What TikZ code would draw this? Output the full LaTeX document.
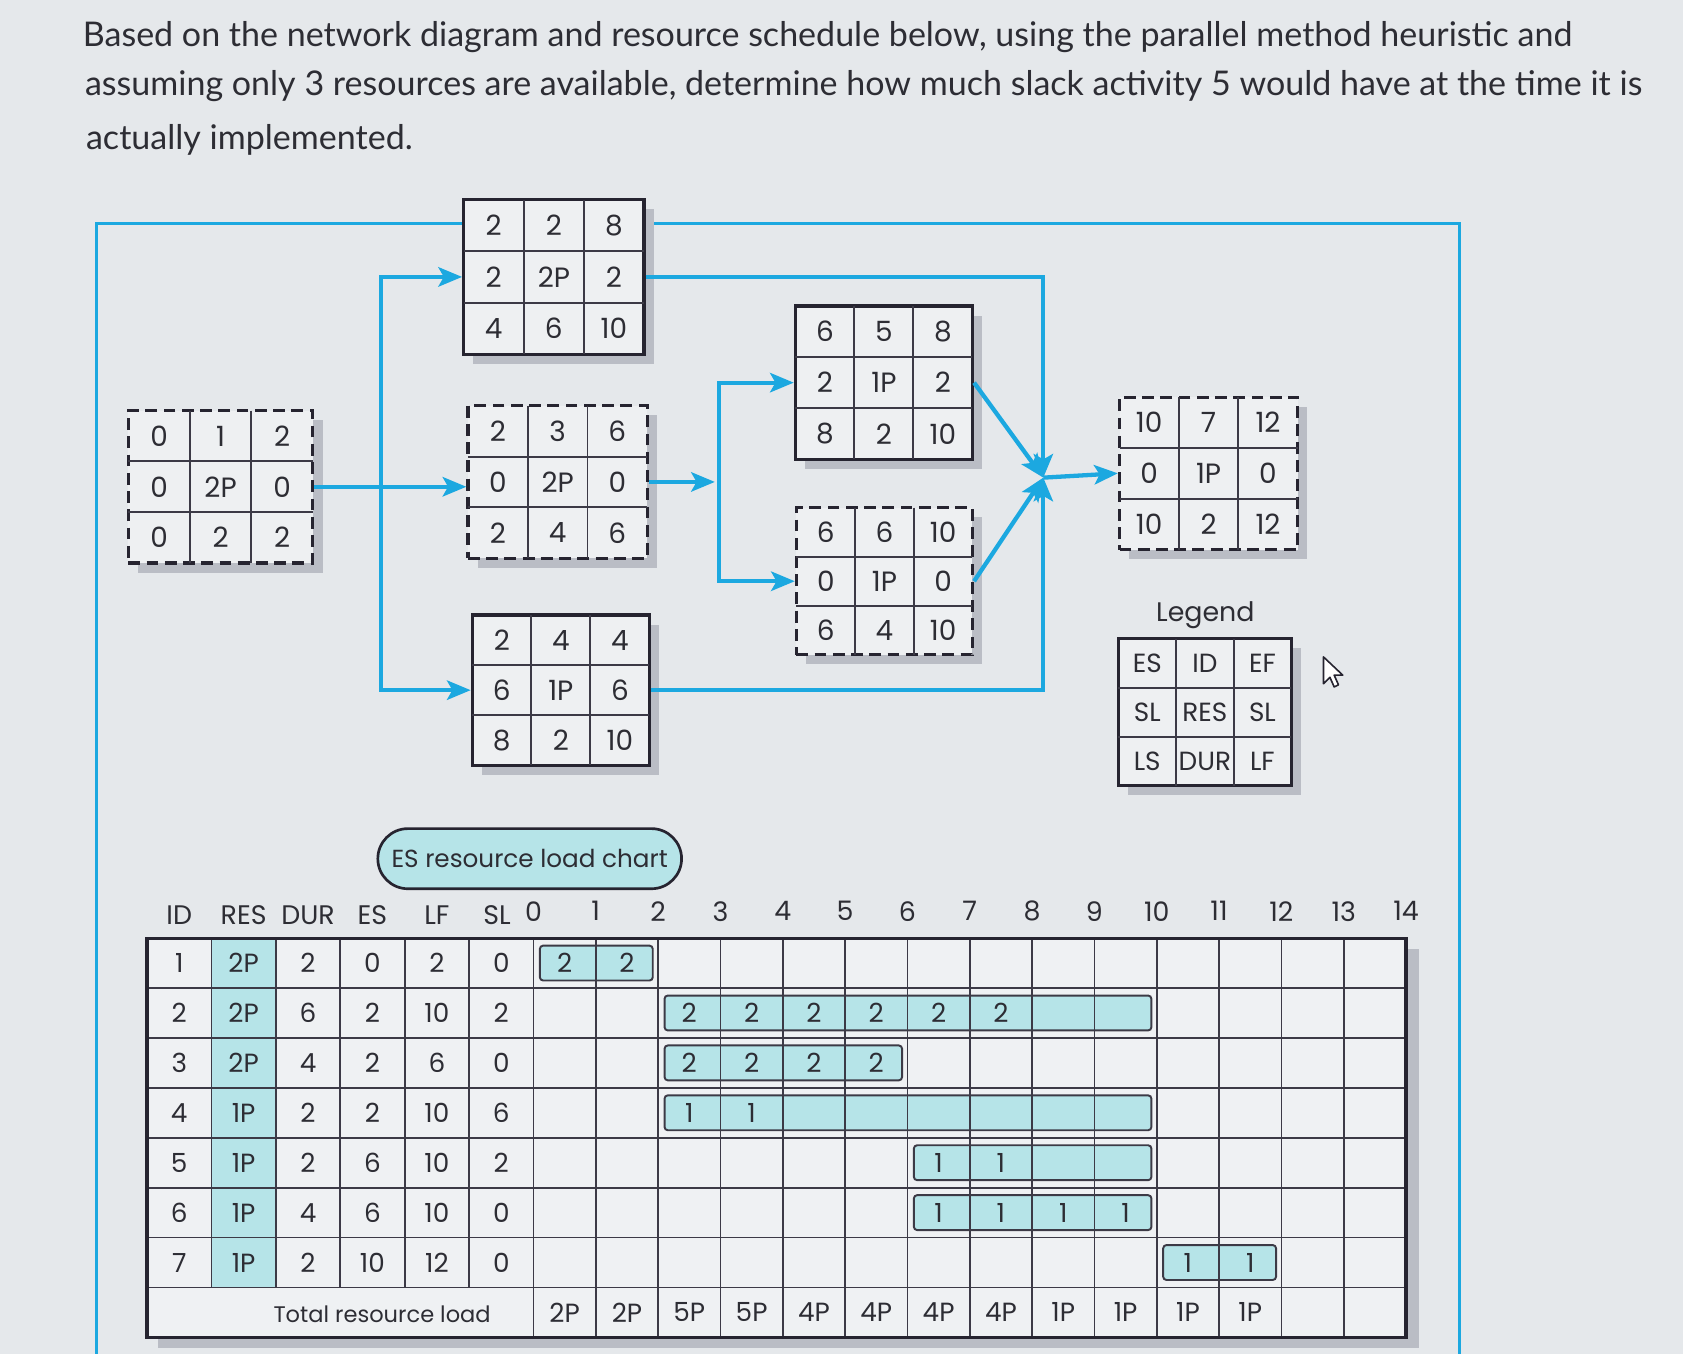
\documentclass[tikz,border=0pt]{standalone}
\usepackage{fontspec}
\setmainfont{Lato}
\newfontfamily\dfont{Poppins}
\usetikzlibrary{arrows.meta,calc}
\definecolor{bgc}{RGB}{229,232,235}
\definecolor{boxc}{RGB}{238,240,242}
\definecolor{shadc}{RGB}{186,189,197}
\definecolor{linec}{RGB}{38,36,48}
\definecolor{gridc}{RGB}{60,58,70}
\definecolor{bluec}{RGB}{28,168,224}
\definecolor{cyanc}{RGB}{182,228,232}
\definecolor{txtc}{RGB}{45,45,52}
\newcommand\myfs[1]{\fontsize{#1}{#1}\selectfont}
\tikzset{
  qtext/.style={font=\myfs{31.7}, text=txtc, inner sep=0pt},
  conn/.style={draw=bluec, line width=4pt, -{Stealth[length=22pt,width=18pt,inset=5pt]}},
  frameline/.style={draw=bluec, line width=3pt},
  solidbox/.style={draw=linec, line width=3pt, fill=boxc, inner sep=0pt},
  dashbox/.style={draw=linec, line width=3pt, fill=boxc, inner sep=0pt, dash pattern=on 11pt off 6pt},
  innerl/.style={draw=gridc, line width=1.8pt},
  cell/.style={font=\dfont\myfs{26}, text=txtc, inner sep=0pt},
  hdr/.style={font=\dfont\myfs{25}, text=txtc, inner sep=0pt},
  tc/.style={font=\dfont\myfs{24.5}, text=txtc, inner sep=0pt},
  gridl/.style={draw=gridc, line width=1.6pt},
  bar/.style={draw=gridc, line width=1.8pt, fill=cyanc, rounded corners=3pt},
  pill/.style={draw=linec, line width=2.5pt, fill=cyanc, rounded corners=28pt, minimum width=283pt, minimum height=56pt, font=\dfont\myfs{23}, text=txtc},
}
\newcommand\abox[7]{%
  \fill[shadc] ({#2-#5/2+9},{#3-#6/2+9}) rectangle ({#2+#5/2+9},{#3+#6/2+9});
  \node[#4, minimum width=#5, minimum height=#6] (#1) at (#2,#3) {};
  \draw[innerl] ({#2-#5/6},{#3-#6/2}) -- ({#2-#5/6},{#3+#6/2});
  \draw[innerl] ({#2+#5/6},{#3-#6/2}) -- ({#2+#5/6},{#3+#6/2});
  \draw[innerl] ({#2-#5/2},{#3-#6/6}) -- ({#2+#5/2},{#3-#6/6});
  \draw[innerl] ({#2-#5/2},{#3+#6/6}) -- ({#2+#5/2},{#3+#6/6});
  \foreach \t [count=\i from 0] in {#7} {
    \pgfmathtruncatemacro\cc{mod(\i,3)}
    \pgfmathtruncatemacro\rr{int(\i/3)}
    \node[cell] (#1-\i) at ({#2+(\cc-1)*#5/3},{#3+(\rr-1)*#6/3}) {\t};
  }
}
\begin{document}
\begin{tikzpicture}[x=1pt,y=-1pt]
\useasboundingbox (0,0) rectangle (1568,1261);
\fill[bgc] (0,0) rectangle (1568,1261);

% question
\node[qtext, anchor=base west] (q1) at (77,43) {Based on the network diagram and resource schedule below, using the parallel method heuristic and};
\node[qtext, anchor=base west] (q2) at (79,89) {assuming only 3 resources are available, determine how much slack activity 5 would have at the time it is};
\node[qtext, anchor=base west] (q3) at (80,139) {actually implemented.};

% frame
\draw[frameline] (90,1261) -- (90,208) -- (1360,208) -- (1360,1261);

% activity boxes
\abox{a1}{205.5}{453.5}{dashbox}{172}{142}{0,1,2,0,2P,0,0,2,2}
\abox{a2}{516}{258}{solidbox}{168}{144}{2,2,8,2,2P,2,4,6,10}
\abox{a3}{519.5}{449}{dashbox}{167}{142}{2,3,6,0,2P,0,2,4,6}
\abox{a4}{522.5}{643}{solidbox}{165}{140}{2,4,4,6,1P,6,8,2,10}
\abox{a5}{823.5}{356.5}{solidbox}{165}{143}{6,5,8,2,1P,2,8,2,10}
\abox{a6}{824}{541.5}{dashbox}{164}{137}{6,6,10,0,1P,0,6,4,10}
\abox{a7}{1126}{441}{dashbox}{166}{142}{10,7,12,0,1P,0,10,2,12}
\begin{scope}[cell/.style={font=\dfont\myfs{24.5}, text=txtc, inner sep=0pt}]
\abox{leg}{1122.5}{663.5}{solidbox}{161}{137}{ES,ID,EF,SL,RES,SL,LS,DUR,LF}
\end{scope}
\node[hdr] (legt) at (1123,573) {Legend};

% connectors
\coordinate (j1) at (355,453.5);
\coordinate (j2) at (670,449);
\coordinate (j2a) at (666,449);
\coordinate (m) at (972,445);
\draw[conn] (a1.east) -- (a3.west |- a1.east);
\draw[conn] (j1) |- (a2.west);
\draw[conn] (j1) |- (a4.west);
\draw[conn] (a3.east) -- (j2a);
\draw[conn] (j2) |- (a5.west);
\draw[conn] (j2) |- (a6.west);
\draw[conn] (a2.east) -| (m);
\draw[conn] (a4.east) -| (m);
\draw[conn] (a5.east) -- (m);
\draw[conn] (a6.east) -- (m);
\draw[conn] (m) -- (a7.west);

% cursor
\draw[fill=white, draw=linec, line width=1.5pt, line join=round]
  (1233,612) -- (1233,637) -- (1239,631) -- (1243,640) -- (1247,638) -- (1243,629) -- (1251,629) -- cycle;

% pill
\node[pill] (chart) at (493.5,800) {ES resource load chart};

% table
\fill[shadc] (147,884) rectangle (1322,1256);
\fill[bgc!60!white] (137,874) rectangle (1310,1246);
\fill[cyanc] (197,874) rectangle (257,{874+46.5*7});
\foreach \rw/\s/\e in {1/0/2, 2/2/10, 3/2/6, 4/2/10, 5/6/10, 6/6/10, 7/10/12}
  \draw[bar] ({497+58.07*\s+6},{874+46.5*(\rw-1)+7}) rectangle ({497+58.07*\e-5},{874+46.5*\rw-7});
\foreach \rw in {1,...,7} \draw[gridl] (137,{874+46.5*\rw}) -- (1310,{874+46.5*\rw});
\foreach \xx in {197,257,317,377,437} \draw[gridl] (\xx,874) -- (\xx,{874+46.5*7});
\foreach \k in {0,...,13} \draw[gridl] ({497+58.07*\k},874) -- ({497+58.07*\k},1246);
\draw[draw=linec, line width=3pt] (137,874) rectangle (1310,1246);

% bar labels
\foreach \rw/\s/\v/\n in {1/0/2/2, 2/2/2/6, 3/2/2/4, 4/2/1/2, 5/6/1/2, 6/6/1/4, 7/10/1/2}
  \foreach \k in {1,...,\n}
    \node[tc] (bl\rw-\k) at ({497+58.07*(\s+\k-0.5)},{874+46.5*(\rw-0.5)}) {\v};

% headers
\foreach \lab/\xx [count=\i] in {ID/167,RES/227,DUR/287,ES/347,LF/407,SL/463}
  \node[hdr] (hd\i) at (\xx,853) {\lab};
\foreach \k in {0,...,14}
  \node[hdr] (tm\k) at ({497+58.07*\k},849) {\k};

% table rows
\foreach \rw/\va/\vb/\vc/\vd/\ve in {1/2P/2/0/2/0, 2/2P/6/2/10/2, 3/2P/4/2/6/0, 4/1P/2/2/10/6, 5/1P/2/6/10/2, 6/1P/4/6/10/0, 7/1P/2/10/12/0} {
  \node[tc] (id\rw) at (167,{874+46.5*(\rw-0.5)}) {\rw};
  \node[tc] (rs\rw) at (227,{874+46.5*(\rw-0.5)}) {\va};
  \node[tc] (du\rw) at (287,{874+46.5*(\rw-0.5)}) {\vb};
  \node[tc] (es\rw) at (347,{874+46.5*(\rw-0.5)}) {\vc};
  \node[tc] (lf\rw) at (407,{874+46.5*(\rw-0.5)}) {\vd};
  \node[tc] (sl\rw) at (467,{874+46.5*(\rw-0.5)}) {\ve};
}
\node[tc, font=\dfont\myfs{21}] (totl) at (356,1224) {Total resource load};
\foreach \v [count=\k from 0] in {2P,2P,5P,5P,4P,4P,4P,4P,1P,1P,1P,1P}
  \node[tc] (tot\k) at ({497+58.07*(\k+0.5)},1222.75) {\v};
\end{tikzpicture}
\end{document}
